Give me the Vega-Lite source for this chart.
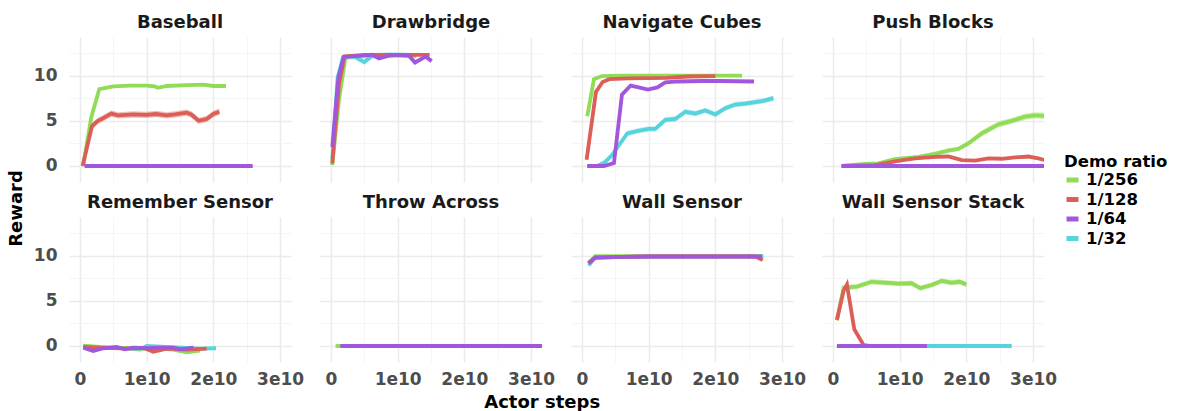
{
  "$schema": "https://vega.github.io/schema/vega-lite/v6.json",
  "padding": {"left": 8, "top": 14, "right": 0, "bottom": 2},
  "background": "white",
  "title": {"text": "Actor steps", "orient": "bottom", "anchor": "middle", "font": "DejaVu Sans", "fontWeight": "bold", "fontSize": 18, "color": "#000000", "offset": 7, "dx": -46},
  "vconcat": [{
  "title": {"text": "Reward", "orient": "left", "anchor": "middle", "font": "DejaVu Sans", "fontWeight": "bold", "fontSize": 18, "color": "#000000", "offset": 7, "dx": -8},
  "data": {"values": [
    {"t":"Baseball","r":"1/256","s":0.05e10,"y":0.1,"lo":-0.05,"hi":0.25},
    {"t":"Baseball","r":"1/256","s":0.17e10,"y":5.4,"lo":5.25,"hi":5.55},
    {"t":"Baseball","r":"1/256","s":0.29e10,"y":8.5,"lo":8.35,"hi":8.65},
    {"t":"Baseball","r":"1/256","s":0.5e10,"y":8.8,"lo":8.65,"hi":8.95},
    {"t":"Baseball","r":"1/256","s":0.75e10,"y":8.9,"lo":8.75,"hi":9.05},
    {"t":"Baseball","r":"1/256","s":1.0e10,"y":8.9,"lo":8.75,"hi":9.05},
    {"t":"Baseball","r":"1/256","s":1.12e10,"y":8.8,"lo":8.65,"hi":8.95},
    {"t":"Baseball","r":"1/256","s":1.17e10,"y":8.65,"lo":8.5,"hi":8.8},
    {"t":"Baseball","r":"1/256","s":1.3e10,"y":8.85,"lo":8.7,"hi":9.0},
    {"t":"Baseball","r":"1/256","s":1.6e10,"y":8.95,"lo":8.8,"hi":9.1},
    {"t":"Baseball","r":"1/256","s":1.85e10,"y":9.0,"lo":8.85,"hi":9.15},
    {"t":"Baseball","r":"1/256","s":2.0e10,"y":8.85,"lo":8.7,"hi":9.0},
    {"t":"Baseball","r":"1/256","s":2.19e10,"y":8.85,"lo":8.7,"hi":9.0},
    {"t":"Baseball","r":"1/128","s":0.04e10,"y":0.0,"lo":-0.3,"hi":0.3},
    {"t":"Baseball","r":"1/128","s":0.18e10,"y":4.4,"lo":4.05,"hi":4.75},
    {"t":"Baseball","r":"1/128","s":0.27e10,"y":5.0,"lo":4.65,"hi":5.35},
    {"t":"Baseball","r":"1/128","s":0.35e10,"y":5.3,"lo":4.95,"hi":5.65},
    {"t":"Baseball","r":"1/128","s":0.47e10,"y":5.8,"lo":5.45,"hi":6.15},
    {"t":"Baseball","r":"1/128","s":0.57e10,"y":5.6,"lo":5.25,"hi":5.95},
    {"t":"Baseball","r":"1/128","s":0.8e10,"y":5.7,"lo":5.35,"hi":6.05},
    {"t":"Baseball","r":"1/128","s":1.0e10,"y":5.65,"lo":5.3,"hi":6.0},
    {"t":"Baseball","r":"1/128","s":1.14e10,"y":5.75,"lo":5.4,"hi":6.1},
    {"t":"Baseball","r":"1/128","s":1.3e10,"y":5.6,"lo":5.25,"hi":5.95},
    {"t":"Baseball","r":"1/128","s":1.42e10,"y":5.7,"lo":5.35,"hi":6.05},
    {"t":"Baseball","r":"1/128","s":1.6e10,"y":5.9,"lo":5.55,"hi":6.25},
    {"t":"Baseball","r":"1/128","s":1.67e10,"y":5.7,"lo":5.35,"hi":6.05},
    {"t":"Baseball","r":"1/128","s":1.78e10,"y":5.0,"lo":4.65,"hi":5.35},
    {"t":"Baseball","r":"1/128","s":1.9e10,"y":5.2,"lo":4.85,"hi":5.55},
    {"t":"Baseball","r":"1/128","s":2.0e10,"y":5.75,"lo":5.4,"hi":6.1},
    {"t":"Baseball","r":"1/128","s":2.09e10,"y":6.0,"lo":5.65,"hi":6.35},
    {"t":"Baseball","r":"1/64","s":0.07e10,"y":0},
    {"t":"Baseball","r":"1/64","s":1.3e10,"y":0},
    {"t":"Baseball","r":"1/64","s":2.59e10,"y":0},

    {"t":"Drawbridge","r":"1/256","s":0.02e10,"y":0.1},
    {"t":"Drawbridge","r":"1/256","s":0.12e10,"y":7.3},
    {"t":"Drawbridge","r":"1/256","s":0.22e10,"y":12.1},
    {"t":"Drawbridge","r":"1/256","s":0.5e10,"y":12.2},
    {"t":"Drawbridge","r":"1/256","s":0.8e10,"y":12.2},
    {"t":"Drawbridge","r":"1/256","s":1.2e10,"y":12.2},
    {"t":"Drawbridge","r":"1/128","s":0.02e10,"y":0.3},
    {"t":"Drawbridge","r":"1/128","s":0.12e10,"y":9.0},
    {"t":"Drawbridge","r":"1/128","s":0.2e10,"y":12.1},
    {"t":"Drawbridge","r":"1/128","s":0.5e10,"y":12.3},
    {"t":"Drawbridge","r":"1/128","s":1.0e10,"y":12.3},
    {"t":"Drawbridge","r":"1/128","s":1.3e10,"y":12.3},
    {"t":"Drawbridge","r":"1/128","s":1.48e10,"y":12.3},
    {"t":"Drawbridge","r":"1/32","s":0.02e10,"y":0.8,"lo":0.5,"hi":1.1},
    {"t":"Drawbridge","r":"1/32","s":0.1e10,"y":9.8,"lo":9.5,"hi":10.1},
    {"t":"Drawbridge","r":"1/32","s":0.18e10,"y":12.0,"lo":11.7,"hi":12.3},
    {"t":"Drawbridge","r":"1/32","s":0.35e10,"y":12.1,"lo":11.8,"hi":12.4},
    {"t":"Drawbridge","r":"1/32","s":0.5e10,"y":11.5,"lo":11.2,"hi":11.8},
    {"t":"Drawbridge","r":"1/32","s":0.62e10,"y":12.2,"lo":11.9,"hi":12.5},
    {"t":"Drawbridge","r":"1/32","s":0.9e10,"y":12.3,"lo":12.0,"hi":12.6},
    {"t":"Drawbridge","r":"1/32","s":1.28e10,"y":12.2,"lo":11.9,"hi":12.5},
    {"t":"Drawbridge","r":"1/64","s":0.02e10,"y":2.1},
    {"t":"Drawbridge","r":"1/64","s":0.11e10,"y":9.7},
    {"t":"Drawbridge","r":"1/64","s":0.19e10,"y":12.06},
    {"t":"Drawbridge","r":"1/64","s":0.47e10,"y":12.2},
    {"t":"Drawbridge","r":"1/64","s":0.62e10,"y":12.3},
    {"t":"Drawbridge","r":"1/64","s":0.72e10,"y":11.9},
    {"t":"Drawbridge","r":"1/64","s":0.87e10,"y":12.2},
    {"t":"Drawbridge","r":"1/64","s":0.99e10,"y":12.3},
    {"t":"Drawbridge","r":"1/64","s":1.17e10,"y":12.2},
    {"t":"Drawbridge","r":"1/64","s":1.26e10,"y":11.45},
    {"t":"Drawbridge","r":"1/64","s":1.42e10,"y":12.1},
    {"t":"Drawbridge","r":"1/64","s":1.51e10,"y":11.6},

    {"t":"Navigate Cubes","r":"1/256","s":0.08e10,"y":5.5},
    {"t":"Navigate Cubes","r":"1/256","s":0.18e10,"y":9.6},
    {"t":"Navigate Cubes","r":"1/256","s":0.3e10,"y":9.95},
    {"t":"Navigate Cubes","r":"1/256","s":0.6e10,"y":10.0},
    {"t":"Navigate Cubes","r":"1/256","s":1.2e10,"y":10.0},
    {"t":"Navigate Cubes","r":"1/256","s":1.8e10,"y":10.0},
    {"t":"Navigate Cubes","r":"1/256","s":2.4e10,"y":10.0},
    {"t":"Navigate Cubes","r":"1/128","s":0.07e10,"y":0.7},
    {"t":"Navigate Cubes","r":"1/128","s":0.21e10,"y":8.2},
    {"t":"Navigate Cubes","r":"1/128","s":0.31e10,"y":9.3},
    {"t":"Navigate Cubes","r":"1/128","s":0.41e10,"y":9.6},
    {"t":"Navigate Cubes","r":"1/128","s":0.7e10,"y":9.7},
    {"t":"Navigate Cubes","r":"1/128","s":1.27e10,"y":9.75},
    {"t":"Navigate Cubes","r":"1/128","s":1.6e10,"y":9.9},
    {"t":"Navigate Cubes","r":"1/128","s":2.0e10,"y":9.95},
    {"t":"Navigate Cubes","r":"1/64","s":0.08e10,"y":0},
    {"t":"Navigate Cubes","r":"1/64","s":0.33e10,"y":0},
    {"t":"Navigate Cubes","r":"1/64","s":0.48e10,"y":0.33},
    {"t":"Navigate Cubes","r":"1/64","s":0.6e10,"y":7.9},
    {"t":"Navigate Cubes","r":"1/64","s":0.73e10,"y":8.9},
    {"t":"Navigate Cubes","r":"1/64","s":0.85e10,"y":8.7},
    {"t":"Navigate Cubes","r":"1/64","s":0.99e10,"y":8.45},
    {"t":"Navigate Cubes","r":"1/64","s":1.13e10,"y":8.7},
    {"t":"Navigate Cubes","r":"1/64","s":1.25e10,"y":9.26},
    {"t":"Navigate Cubes","r":"1/64","s":1.45e10,"y":9.35},
    {"t":"Navigate Cubes","r":"1/64","s":1.8e10,"y":9.4},
    {"t":"Navigate Cubes","r":"1/64","s":2.05e10,"y":9.4},
    {"t":"Navigate Cubes","r":"1/64","s":2.58e10,"y":9.35},
    {"t":"Navigate Cubes","r":"1/32","s":0.08e10,"y":0,"lo":-0.1,"hi":0.1},
    {"t":"Navigate Cubes","r":"1/32","s":0.23e10,"y":0,"lo":-0.1,"hi":0.1},
    {"t":"Navigate Cubes","r":"1/32","s":0.35e10,"y":0.45,"lo":0.2,"hi":0.7},
    {"t":"Navigate Cubes","r":"1/32","s":0.45e10,"y":1.2,"lo":0.9,"hi":1.5},
    {"t":"Navigate Cubes","r":"1/32","s":0.68e10,"y":3.6,"lo":3.3,"hi":3.9},
    {"t":"Navigate Cubes","r":"1/32","s":0.85e10,"y":3.9,"lo":3.6,"hi":4.2},
    {"t":"Navigate Cubes","r":"1/32","s":1.0e10,"y":4.1,"lo":3.8,"hi":4.4},
    {"t":"Navigate Cubes","r":"1/32","s":1.1e10,"y":4.1,"lo":3.8,"hi":4.4},
    {"t":"Navigate Cubes","r":"1/32","s":1.25e10,"y":5.1,"lo":4.8,"hi":5.4},
    {"t":"Navigate Cubes","r":"1/32","s":1.4e10,"y":5.2,"lo":4.9,"hi":5.5},
    {"t":"Navigate Cubes","r":"1/32","s":1.55e10,"y":6.0,"lo":5.7,"hi":6.3},
    {"t":"Navigate Cubes","r":"1/32","s":1.7e10,"y":5.8,"lo":5.5,"hi":6.1},
    {"t":"Navigate Cubes","r":"1/32","s":1.85e10,"y":6.15,"lo":5.85,"hi":6.45},
    {"t":"Navigate Cubes","r":"1/32","s":2.0e10,"y":5.7,"lo":5.4,"hi":6.0},
    {"t":"Navigate Cubes","r":"1/32","s":2.15e10,"y":6.4,"lo":6.1,"hi":6.7},
    {"t":"Navigate Cubes","r":"1/32","s":2.3e10,"y":6.8,"lo":6.5,"hi":7.1},
    {"t":"Navigate Cubes","r":"1/32","s":2.45e10,"y":6.9,"lo":6.6,"hi":7.2},
    {"t":"Navigate Cubes","r":"1/32","s":2.72e10,"y":7.2,"lo":6.9,"hi":7.5},
    {"t":"Navigate Cubes","r":"1/32","s":2.87e10,"y":7.5,"lo":7.2,"hi":7.8},

    {"t":"Push Blocks","r":"1/256","s":0.13e10,"y":0,"lo":-0.05,"hi":0.05},
    {"t":"Push Blocks","r":"1/256","s":0.48e10,"y":0.23,"lo":0.1,"hi":0.36},
    {"t":"Push Blocks","r":"1/256","s":0.68e10,"y":0.3,"lo":0.15,"hi":0.45},
    {"t":"Push Blocks","r":"1/256","s":0.93e10,"y":0.75,"lo":0.55,"hi":0.95},
    {"t":"Push Blocks","r":"1/256","s":1.28e10,"y":1.0,"lo":0.8,"hi":1.2},
    {"t":"Push Blocks","r":"1/256","s":1.53e10,"y":1.35,"lo":1.1,"hi":1.6},
    {"t":"Push Blocks","r":"1/256","s":1.73e10,"y":1.7,"lo":1.45,"hi":1.95},
    {"t":"Push Blocks","r":"1/256","s":1.88e10,"y":1.9,"lo":1.65,"hi":2.15},
    {"t":"Push Blocks","r":"1/256","s":2.03e10,"y":2.5,"lo":2.2,"hi":2.8},
    {"t":"Push Blocks","r":"1/256","s":2.23e10,"y":3.6,"lo":3.25,"hi":3.95},
    {"t":"Push Blocks","r":"1/256","s":2.48e10,"y":4.6,"lo":4.25,"hi":4.95},
    {"t":"Push Blocks","r":"1/256","s":2.68e10,"y":5.0,"lo":4.65,"hi":5.35},
    {"t":"Push Blocks","r":"1/256","s":2.88e10,"y":5.45,"lo":5.1,"hi":5.8},
    {"t":"Push Blocks","r":"1/256","s":3.03e10,"y":5.6,"lo":5.25,"hi":5.95},
    {"t":"Push Blocks","r":"1/256","s":3.2e10,"y":5.55,"lo":5.2,"hi":5.9},
    {"t":"Push Blocks","r":"1/128","s":0.13e10,"y":0},
    {"t":"Push Blocks","r":"1/128","s":0.63e10,"y":0.1},
    {"t":"Push Blocks","r":"1/128","s":0.93e10,"y":0.5},
    {"t":"Push Blocks","r":"1/128","s":1.23e10,"y":0.85},
    {"t":"Push Blocks","r":"1/128","s":1.53e10,"y":1.0},
    {"t":"Push Blocks","r":"1/128","s":1.73e10,"y":1.05},
    {"t":"Push Blocks","r":"1/128","s":1.93e10,"y":0.65},
    {"t":"Push Blocks","r":"1/128","s":2.13e10,"y":0.6},
    {"t":"Push Blocks","r":"1/128","s":2.33e10,"y":0.85},
    {"t":"Push Blocks","r":"1/128","s":2.53e10,"y":0.8},
    {"t":"Push Blocks","r":"1/128","s":2.73e10,"y":0.95},
    {"t":"Push Blocks","r":"1/128","s":2.93e10,"y":1.05},
    {"t":"Push Blocks","r":"1/128","s":3.08e10,"y":0.85},
    {"t":"Push Blocks","r":"1/128","s":3.2e10,"y":0.6},
    {"t":"Push Blocks","r":"1/64","s":0.13e10,"y":0},
    {"t":"Push Blocks","r":"1/64","s":1.6e10,"y":0},
    {"t":"Push Blocks","r":"1/64","s":3.2e10,"y":0},

    {"t":"Remember Sensor","r":"1/32","s":0.05e10,"y":0},
    {"t":"Remember Sensor","r":"1/32","s":0.3e10,"y":-0.2},
    {"t":"Remember Sensor","r":"1/32","s":0.6e10,"y":-0.2},
    {"t":"Remember Sensor","r":"1/32","s":0.9e10,"y":-0.4},
    {"t":"Remember Sensor","r":"1/32","s":1.0e10,"y":0},
    {"t":"Remember Sensor","r":"1/32","s":1.3e10,"y":-0.1},
    {"t":"Remember Sensor","r":"1/32","s":1.6e10,"y":-0.2},
    {"t":"Remember Sensor","r":"1/32","s":1.8e10,"y":-0.3},
    {"t":"Remember Sensor","r":"1/32","s":2.04e10,"y":-0.25},
    {"t":"Remember Sensor","r":"1/256","s":0.05e10,"y":0.05},
    {"t":"Remember Sensor","r":"1/256","s":0.3e10,"y":-0.1},
    {"t":"Remember Sensor","r":"1/256","s":0.6e10,"y":-0.2},
    {"t":"Remember Sensor","r":"1/256","s":0.9e10,"y":-0.3},
    {"t":"Remember Sensor","r":"1/256","s":1.2e10,"y":-0.3},
    {"t":"Remember Sensor","r":"1/256","s":1.4e10,"y":-0.4},
    {"t":"Remember Sensor","r":"1/256","s":1.6e10,"y":-0.7},
    {"t":"Remember Sensor","r":"1/256","s":1.8e10,"y":-0.5},
    {"t":"Remember Sensor","r":"1/128","s":0.05e10,"y":-0.1},
    {"t":"Remember Sensor","r":"1/128","s":0.4e10,"y":-0.2},
    {"t":"Remember Sensor","r":"1/128","s":0.7e10,"y":-0.3},
    {"t":"Remember Sensor","r":"1/128","s":0.95e10,"y":-0.2},
    {"t":"Remember Sensor","r":"1/128","s":1.1e10,"y":-0.65},
    {"t":"Remember Sensor","r":"1/128","s":1.3e10,"y":-0.3},
    {"t":"Remember Sensor","r":"1/128","s":1.6e10,"y":-0.4},
    {"t":"Remember Sensor","r":"1/128","s":1.9e10,"y":-0.3},
    {"t":"Remember Sensor","r":"1/64","s":0.05e10,"y":-0.2},
    {"t":"Remember Sensor","r":"1/64","s":0.2e10,"y":-0.55},
    {"t":"Remember Sensor","r":"1/64","s":0.35e10,"y":-0.25},
    {"t":"Remember Sensor","r":"1/64","s":0.55e10,"y":-0.1},
    {"t":"Remember Sensor","r":"1/64","s":0.67e10,"y":-0.37},
    {"t":"Remember Sensor","r":"1/64","s":0.8e10,"y":-0.18},
    {"t":"Remember Sensor","r":"1/64","s":1.0e10,"y":-0.25},
    {"t":"Remember Sensor","r":"1/64","s":1.2e10,"y":-0.18},
    {"t":"Remember Sensor","r":"1/64","s":1.4e10,"y":-0.18},
    {"t":"Remember Sensor","r":"1/64","s":1.5e10,"y":-0.37},
    {"t":"Remember Sensor","r":"1/64","s":1.7e10,"y":-0.18},

    {"t":"Throw Across","r":"1/256","s":0.07e10,"y":0},
    {"t":"Throw Across","r":"1/256","s":0.15e10,"y":0},
    {"t":"Throw Across","r":"1/64","s":0.14e10,"y":0},
    {"t":"Throw Across","r":"1/64","s":1.6e10,"y":0},
    {"t":"Throw Across","r":"1/64","s":3.2e10,"y":0},

    {"t":"Wall Sensor","r":"1/256","s":0.1e10,"y":9.2},
    {"t":"Wall Sensor","r":"1/256","s":0.2e10,"y":9.95},
    {"t":"Wall Sensor","r":"1/256","s":1.0e10,"y":9.95},
    {"t":"Wall Sensor","r":"1/256","s":2.0e10,"y":9.95},
    {"t":"Wall Sensor","r":"1/256","s":2.7e10,"y":9.9},
    {"t":"Wall Sensor","r":"1/128","s":0.1e10,"y":9.1},
    {"t":"Wall Sensor","r":"1/128","s":0.2e10,"y":9.8},
    {"t":"Wall Sensor","r":"1/128","s":1.0e10,"y":9.9},
    {"t":"Wall Sensor","r":"1/128","s":2.0e10,"y":9.9},
    {"t":"Wall Sensor","r":"1/128","s":2.6e10,"y":9.9},
    {"t":"Wall Sensor","r":"1/128","s":2.71e10,"y":9.5},
    {"t":"Wall Sensor","r":"1/32","s":0.1e10,"y":8.9},
    {"t":"Wall Sensor","r":"1/32","s":0.2e10,"y":9.8},
    {"t":"Wall Sensor","r":"1/32","s":1.0e10,"y":9.9},
    {"t":"Wall Sensor","r":"1/32","s":2.0e10,"y":9.9},
    {"t":"Wall Sensor","r":"1/32","s":2.72e10,"y":9.95},
    {"t":"Wall Sensor","r":"1/64","s":0.1e10,"y":9.2},
    {"t":"Wall Sensor","r":"1/64","s":0.2e10,"y":9.75},
    {"t":"Wall Sensor","r":"1/64","s":0.6e10,"y":9.85},
    {"t":"Wall Sensor","r":"1/64","s":1.0e10,"y":9.9},
    {"t":"Wall Sensor","r":"1/64","s":1.5e10,"y":9.9},
    {"t":"Wall Sensor","r":"1/64","s":2.0e10,"y":9.9},
    {"t":"Wall Sensor","r":"1/64","s":2.7e10,"y":9.9},

    {"t":"Wall Sensor Stack","r":"1/256","s":0.06e10,"y":2.84,"lo":2.54,"hi":3.14},
    {"t":"Wall Sensor Stack","r":"1/256","s":0.16e10,"y":6.46,"lo":6.16,"hi":6.76},
    {"t":"Wall Sensor Stack","r":"1/256","s":0.36e10,"y":6.57,"lo":6.27,"hi":6.87},
    {"t":"Wall Sensor Stack","r":"1/256","s":0.58e10,"y":7.1,"lo":6.8,"hi":7.4},
    {"t":"Wall Sensor Stack","r":"1/256","s":0.78e10,"y":7.0,"lo":6.7,"hi":7.3},
    {"t":"Wall Sensor Stack","r":"1/256","s":0.98e10,"y":6.9,"lo":6.6,"hi":7.2},
    {"t":"Wall Sensor Stack","r":"1/256","s":1.18e10,"y":6.94,"lo":6.64,"hi":7.24},
    {"t":"Wall Sensor Stack","r":"1/256","s":1.31e10,"y":6.4,"lo":6.1,"hi":6.7},
    {"t":"Wall Sensor Stack","r":"1/256","s":1.48e10,"y":6.75,"lo":6.45,"hi":7.05},
    {"t":"Wall Sensor Stack","r":"1/256","s":1.63e10,"y":7.2,"lo":6.9,"hi":7.5},
    {"t":"Wall Sensor Stack","r":"1/256","s":1.78e10,"y":7.0,"lo":6.7,"hi":7.3},
    {"t":"Wall Sensor Stack","r":"1/256","s":1.9e10,"y":7.1,"lo":6.8,"hi":7.4},
    {"t":"Wall Sensor Stack","r":"1/256","s":2.0e10,"y":6.8,"lo":6.5,"hi":7.1},
    {"t":"Wall Sensor Stack","r":"1/128","s":0.06e10,"y":2.9},
    {"t":"Wall Sensor Stack","r":"1/128","s":0.16e10,"y":6.1},
    {"t":"Wall Sensor Stack","r":"1/128","s":0.21e10,"y":6.8},
    {"t":"Wall Sensor Stack","r":"1/128","s":0.32e10,"y":1.85},
    {"t":"Wall Sensor Stack","r":"1/128","s":0.46e10,"y":0.1},
    {"t":"Wall Sensor Stack","r":"1/128","s":0.55e10,"y":0},
    {"t":"Wall Sensor Stack","r":"1/32","s":0.06e10,"y":0},
    {"t":"Wall Sensor Stack","r":"1/32","s":1.4e10,"y":0},
    {"t":"Wall Sensor Stack","r":"1/32","s":2.68e10,"y":0},
    {"t":"Wall Sensor Stack","r":"1/64","s":0.06e10,"y":0},
    {"t":"Wall Sensor Stack","r":"1/64","s":0.7e10,"y":0},
    {"t":"Wall Sensor Stack","r":"1/64","s":1.41e10,"y":0}
  ]},
  "columns": 4,
  "spacing": {"column": 29, "row": 12},
  "facet": {
    "field": "t", "type": "nominal", "title": null,
    "header": {"labelFont": "DejaVu Sans", "labelFontWeight": "bold", "labelFontSize": 18, "labelColor": "#1a1a1a", "labelPadding": 5}
  },
  "spec": {
    "width": 222,
    "height": 145,
    "encoding": {
      "x": {"field": "s", "type": "quantitative", "title": null,
        "scale": {"domain": [-0.164e10, 3.164e10], "nice": false, "zero": false},
        "axis": {"values": [0, 0.5e10, 1e10, 1.5e10, 2e10, 2.5e10, 3e10],
          "labelExpr": "datum.value == 0 ? '0' : (datum.value % 1e10 == 0 ? format(datum.value/1e10, 'd') + 'e10' : '')",
          "gridColor": {"condition": {"test": "datum.value % 1e10 != 0", "value": "#f3f3f3"}, "value": "#ebebeb"},
          "gridWidth": {"condition": {"test": "datum.value % 1e10 != 0", "value": 0.8}, "value": 1.5},
          "labelPadding": 9}},
      "y": {"field": "y", "type": "quantitative", "title": null,
        "scale": {"domain": [-1.77, 14.27], "nice": false, "zero": false},
        "axis": {"values": [0, 2.5, 5, 7.5, 10, 12.5],
          "labelExpr": "datum.value % 5 == 0 ? format(datum.value, 'd') : ''",
          "gridColor": {"condition": {"test": "datum.value % 5 != 0", "value": "#f3f3f3"}, "value": "#ebebeb"},
          "gridWidth": {"condition": {"test": "datum.value % 5 != 0", "value": 0.8}, "value": 1.5},
          "labelPadding": 12}},
      "color": {"field": "r", "type": "nominal", "title": "Demo ratio",
        "scale": {"domain": ["1/256", "1/128", "1/64", "1/32"], "range": ["#91db57", "#db5f57", "#a157db", "#57d3db"]},
        "legend": {"orient": "none", "legendX": 995, "legendY": 117}}
    },
    "layer": [
      {"transform": [{"filter": "isValid(datum.lo)"}],
       "mark": {"type": "area", "opacity": 0.4, "clip": true},
       "encoding": {"y": {"field": "lo", "type": "quantitative"}, "y2": {"field": "hi"}}},
      {"transform": [{"filter": "datum.r == '1/32'"}], "mark": {"type": "line", "strokeWidth": 3.8, "clip": true}},
      {"transform": [{"filter": "datum.r == '1/256'"}], "mark": {"type": "line", "strokeWidth": 3.8, "clip": true}},
      {"transform": [{"filter": "datum.r == '1/128'"}], "mark": {"type": "line", "strokeWidth": 3.8, "clip": true}},
      {"transform": [{"filter": "datum.r == '1/64'"}], "mark": {"type": "line", "strokeWidth": 3.8, "clip": true}}
    ]
  }
  }],
  "config": {
    "view": {"stroke": null},
    "font": "DejaVu Sans",
    "axis": {"domain": false, "ticks": false, "labelFont": "DejaVu Sans", "labelFontWeight": "bold", "labelFontSize": 17, "labelColor": "#4d4d4d",
      "titleFont": "DejaVu Sans", "titleFontWeight": "bold", "titleFontSize": 18, "titleColor": "#000000"},
    "legend": {"titleFont": "DejaVu Sans", "titleFontWeight": "bold", "titleFontSize": 16.5, "titleColor": "#000000",
      "labelFont": "DejaVu Sans", "labelFontWeight": "bold", "labelFontSize": 16.5, "labelColor": "#000000",
      "symbolType": "stroke", "symbolStrokeWidth": 5, "symbolSize": 144, "symbolOpacity": 1, "rowPadding": -1.5, "titlePadding": 1, "labelOffset": 5}
  }
}
